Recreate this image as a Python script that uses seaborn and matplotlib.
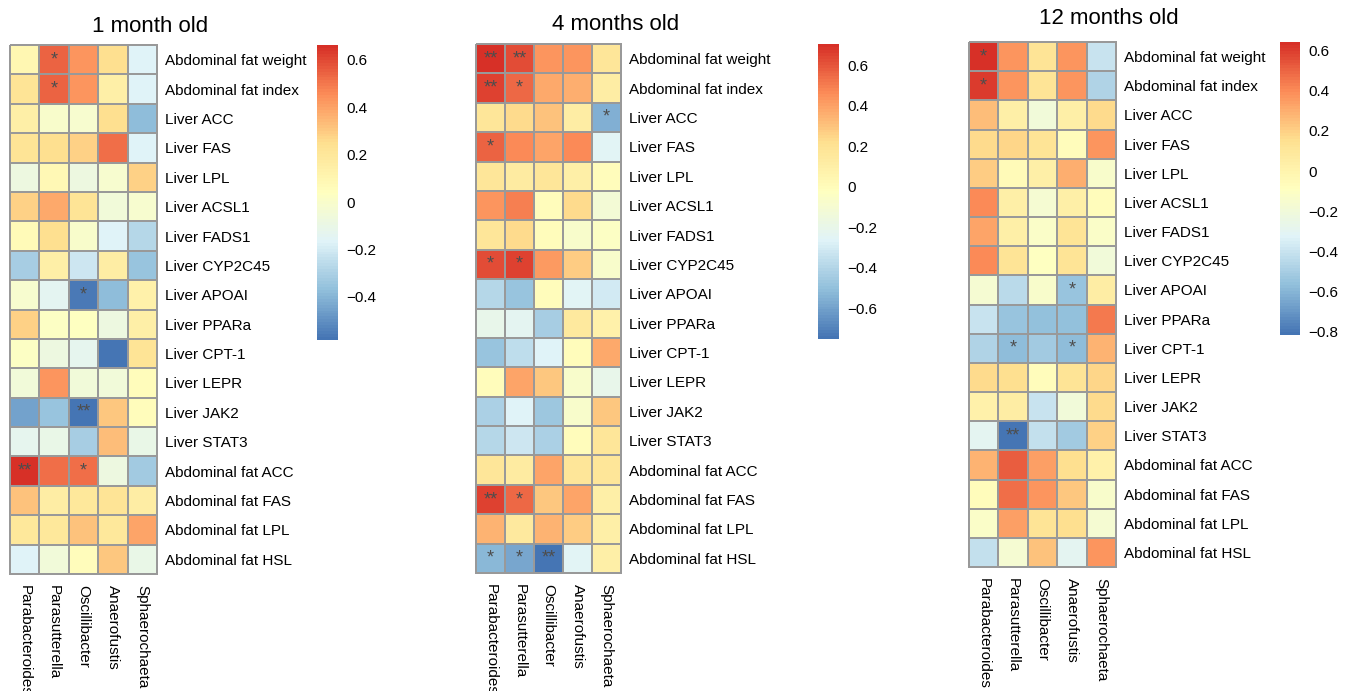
import numpy as np
import pandas as pd
import seaborn as sns
import matplotlib.pyplot as plt
from matplotlib.colors import LinearSegmentedColormap

# rows (traits) and columns (genera)
traits = ["Abdominal fat weight", "Abdominal fat index", "Liver ACC", "Liver FAS",
          "Liver LPL", "Liver ACSL1", "Liver FADS1", "Liver CYP2C45", "Liver APOAI",
          "Liver PPARa", "Liver CPT-1", "Liver LEPR", "Liver JAK2", "Liver STAT3",
          "Abdominal fat ACC", "Abdominal fat FAS", "Abdominal fat LPL", "Abdominal fat HSL"]
genera = ["Parabacteroides", "Parasutterella", "Oscillibacter", "Anaerofustis", "Sphaerochaeta"]

# correlation values
corr_1m = [
    [0.10, 0.55, 0.43, 0.25, -0.17],
    [0.22, 0.55, 0.43, 0.15, -0.17],
    [0.15, 0.00, -0.02, 0.25, -0.38],
    [0.22, 0.24, 0.28, 0.52, -0.17],
    [-0.08, 0.08, -0.08, -0.02, 0.28],
    [0.28, 0.38, 0.22, -0.05, -0.01],
    [0.07, 0.24, 0.00, -0.17, -0.28],
    [-0.32, 0.15, -0.21, 0.16, -0.35],
    [-0.02, -0.14, -0.56, -0.38, 0.14],
    [0.28, 0.02, 0.03, -0.08, 0.15],
    [0.02, -0.08, -0.13, -0.58, 0.22],
    [-0.05, 0.43, -0.05, -0.05, 0.06],
    [-0.45, -0.35, -0.59, 0.31, 0.06],
    [-0.13, -0.10, -0.31, 0.33, -0.10],
    [0.67, 0.52, 0.52, -0.08, -0.33],
    [0.32, 0.16, 0.19, 0.22, 0.16],
    [0.19, 0.19, 0.32, 0.19, 0.40],
    [-0.17, -0.05, 0.06, 0.31, -0.10],
]
corr_4m = [
    [0.69, 0.62, 0.43, 0.43, 0.18],
    [0.65, 0.55, 0.38, 0.36, 0.12],
    [0.18, 0.23, 0.30, 0.12, -0.55],
    [0.56, 0.46, 0.39, 0.47, -0.25],
    [0.18, 0.13, 0.18, 0.10, 0.00],
    [0.43, 0.50, 0.00, 0.23, -0.12],
    [0.18, 0.23, 0.00, -0.07, -0.05],
    [0.63, 0.65, 0.42, 0.27, -0.08],
    [-0.40, -0.48, 0.00, -0.25, -0.30],
    [-0.20, -0.24, -0.44, 0.15, 0.09],
    [-0.48, -0.36, -0.27, 0.00, 0.37],
    [0.00, 0.39, 0.29, -0.07, -0.20],
    [-0.42, -0.27, -0.47, -0.08, 0.29],
    [-0.40, -0.32, -0.42, 0.00, 0.18],
    [0.18, 0.13, 0.39, 0.18, 0.18],
    [0.65, 0.55, 0.29, 0.39, 0.10],
    [0.35, 0.15, 0.35, 0.27, 0.10],
    [-0.52, -0.58, -0.75, -0.25, 0.10],
]
corr_12m = [
    [0.63, 0.37, 0.13, 0.37, -0.40],
    [0.60, 0.37, 0.13, 0.37, -0.47],
    [0.25, 0.04, -0.20, 0.04, 0.17],
    [0.17, 0.19, 0.13, -0.06, 0.37],
    [0.21, -0.05, 0.04, 0.30, -0.14],
    [0.40, 0.04, -0.16, 0.04, -0.06],
    [0.33, 0.04, -0.12, 0.12, -0.12],
    [0.40, 0.12, -0.10, 0.12, -0.20],
    [-0.17, -0.44, -0.14, -0.55, 0.05],
    [-0.40, -0.55, -0.56, -0.56, 0.45],
    [-0.47, -0.58, -0.52, -0.58, 0.28],
    [0.17, 0.15, -0.07, 0.12, 0.19],
    [0.02, 0.05, -0.40, -0.20, 0.17],
    [-0.30, -0.81, -0.42, -0.52, 0.20],
    [0.28, 0.52, 0.35, 0.15, 0.02],
    [-0.06, 0.47, 0.37, 0.23, -0.14],
    [-0.12, 0.35, 0.12, 0.15, -0.16],
    [-0.42, -0.16, 0.24, -0.30, 0.37],
]

# significance marks: (row, col, label)
sig_1m = [(0, 1, "*"), (1, 1, "*"), (8, 2, "*"), (12, 2, "**"), (14, 0, "**"), (14, 2, "*")]
sig_4m = [(0, 0, "**"), (0, 1, "**"), (1, 0, "**"), (1, 1, "*"), (2, 4, "*"), (3, 0, "*"),
          (7, 0, "*"), (7, 1, "*"), (15, 0, "**"), (15, 1, "*"),
          (17, 0, "*"), (17, 1, "*"), (17, 2, "**")]
sig_12m = [(0, 0, "*"), (1, 0, "*"), (8, 3, "*"), (10, 1, "*"), (10, 3, "*"), (13, 1, "**")]

titles = ["1 month old", "4 months old", "12 months old"]
ranges = [(-0.582, 0.663), (-0.751, 0.704), (-0.816, 0.643)]
cbar_ticks = [[-0.4, -0.2, 0, 0.2, 0.4, 0.6],
              [-0.6, -0.4, -0.2, 0, 0.2, 0.4, 0.6],
              [-0.8, -0.6, -0.4, -0.2, 0, 0.2, 0.4, 0.6]]

# pheatmap default palette
cmap = LinearSegmentedColormap.from_list(
    "rdylbu", ["#4575B4", "#91BFDB", "#E0F3F8", "#FFFFBF", "#FEE090", "#FC8D59", "#D73027"], N=100)

plt.rcParams['font.family'] = ['Liberation Sans', 'DejaVu Sans']

W, H = 1353, 691
fig = plt.figure(figsize=(W / 100, H / 100), dpi=100)


def box(x0, y0, x1, y1):
    return [x0 / W, 1 - y1 / H, (x1 - x0) / W, (y1 - y0) / H]


grid_boxes = [(10, 45, 157, 574), (476, 44, 621, 573), (969, 42, 1116, 567)]
cbar_boxes = [(317, 45, 338, 340), (818, 44, 839, 339), (1280, 42, 1300, 335)]
title_pos = [(150, 26), (616, 24), (1109, 19)]

for data, sig, title, (lo, hi), ticks, gb, cb, tp in zip(
        [corr_1m, corr_4m, corr_12m], [sig_1m, sig_4m, sig_12m], titles, ranges,
        cbar_ticks, grid_boxes, cbar_boxes, title_pos):
    df = pd.DataFrame(data, index=traits, columns=genera)
    labels = np.full(df.shape, "", dtype=object)
    for r, c, s in sig:
        labels[r, c] = s
    ax = fig.add_axes(box(*gb))
    cax = fig.add_axes(box(*cb))
    sns.heatmap(df, ax=ax, cmap=cmap, vmin=lo, vmax=hi, linewidths=1.2, linecolor="#999999",
                annot=labels, fmt="", annot_kws={"color": "#4D4D4D", "fontsize": 13},
                cbar_ax=cax)
    mesh = ax.collections[0]
    mesh.set_clip_on(False)
    ax.yaxis.tick_right()
    ax.tick_params(axis="y", length=0, pad=6, labelsize=11, labelrotation=0)
    ax.tick_params(axis="x", length=0, pad=8, labelsize=11)
    for t in ax.get_yticklabels():
        t.set_ha("left")
    ax.set_xticklabels(genera, rotation=-90, va="top", ha="center")
    ax.set_xlabel("")
    ax.set_ylabel("")
    cbar = mesh.colorbar
    cbar.outline.set_visible(False)
    cbar.set_ticks(ticks)
    cbar.set_ticklabels([f"{v:g}".replace("-", "\u2212") for v in ticks])
    cax.tick_params(length=0, pad=6, labelsize=11)
    fig.text(tp[0] / W, 1 - tp[1] / H, title, ha="center", va="center", fontsize=16)

plt.savefig("out.png", dpi=100)
